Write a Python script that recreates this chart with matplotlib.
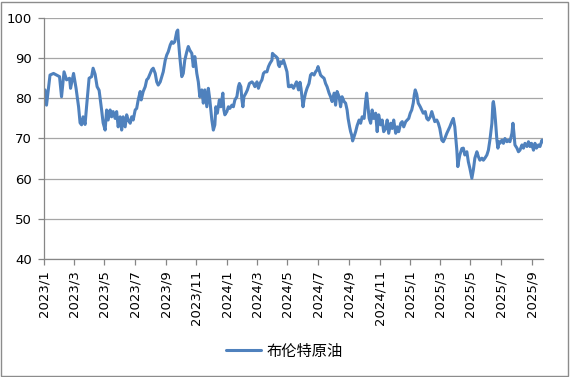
import matplotlib
matplotlib.use("Agg")
import matplotlib.pyplot as plt
from matplotlib.patches import Rectangle
import pandas as pd

series_name = "布伦特原油"

dates = [
    "2023-01-03", "2023-01-06", "2023-01-13", "2023-01-20", "2023-01-26", "2023-02-01", "2023-02-05",
    "2023-02-10", "2023-02-15", "2023-02-21", "2023-02-23", "2023-03-01", "2023-03-06", "2023-03-11",
    "2023-03-14", "2023-03-17", "2023-03-20", "2023-03-24", "2023-03-27", "2023-04-01", "2023-04-06",
    "2023-04-09", "2023-04-13", "2023-04-17", "2023-04-21", "2023-04-26", "2023-04-29", "2023-05-03",
    "2023-05-06", "2023-05-09", "2023-05-13", "2023-05-16", "2023-05-19", "2023-05-23", "2023-05-26",
    "2023-05-29", "2023-06-02", "2023-06-05", "2023-06-08", "2023-06-12", "2023-06-15", "2023-06-18",
    "2023-06-22", "2023-06-25", "2023-06-28", "2023-07-02", "2023-07-05", "2023-07-08", "2023-07-12",
    "2023-07-14", "2023-07-18", "2023-07-22", "2023-07-25", "2023-07-28", "2023-08-01", "2023-08-04",
    "2023-08-07", "2023-08-11", "2023-08-14", "2023-08-17", "2023-08-21", "2023-08-24", "2023-08-27",
    "2023-08-31", "2023-09-03", "2023-09-06", "2023-09-10", "2023-09-13", "2023-09-16", "2023-09-19",
    "2023-09-23", "2023-09-25", "2023-09-26", "2023-09-29", "2023-10-03", "2023-10-06", "2023-10-09",
    "2023-10-13", "2023-10-16", "2023-10-19", "2023-10-23", "2023-10-26", "2023-10-29", "2023-11-02",
    "2023-11-05", "2023-11-08", "2023-11-12", "2023-11-15", "2023-11-18", "2023-11-22", "2023-11-25",
    "2023-11-28", "2023-12-02", "2023-12-05", "2023-12-08", "2023-12-10", "2023-12-13", "2023-12-17",
    "2023-12-20", "2023-12-24", "2023-12-26", "2023-12-28", "2024-01-01", "2024-01-04", "2024-01-07",
    "2024-01-11", "2024-01-14", "2024-01-17", "2024-01-21", "2024-01-24", "2024-01-26", "2024-01-29",
    "2024-01-31", "2024-02-02", "2024-02-04", "2024-02-08", "2024-02-11", "2024-02-15", "2024-02-20",
    "2024-02-23", "2024-02-26", "2024-03-01", "2024-03-04", "2024-03-07", "2024-03-11", "2024-03-14",
    "2024-03-17", "2024-03-21", "2024-03-24", "2024-03-27", "2024-03-31", "2024-04-01", "2024-04-04",
    "2024-04-08", "2024-04-11", "2024-04-13", "2024-04-15", "2024-04-17", "2024-04-20", "2024-04-23",
    "2024-04-26", "2024-04-30", "2024-05-03", "2024-05-06", "2024-05-09", "2024-05-13", "2024-05-16",
    "2024-05-19", "2024-05-23", "2024-05-26", "2024-05-28", "2024-06-01", "2024-06-03", "2024-06-06",
    "2024-06-09", "2024-06-13", "2024-06-16", "2024-06-19", "2024-06-23", "2024-06-26", "2024-06-29",
    "2024-07-01", "2024-07-04", "2024-07-06", "2024-07-09", "2024-07-13", "2024-07-16", "2024-07-19",
    "2024-07-23", "2024-07-26", "2024-07-29", "2024-08-02", "2024-08-05", "2024-08-08", "2024-08-12",
    "2024-08-15", "2024-08-18", "2024-08-22", "2024-08-25", "2024-08-28", "2024-08-30", "2024-09-02",
    "2024-09-04", "2024-09-06", "2024-09-08", "2024-09-11", "2024-09-14", "2024-09-17", "2024-09-21",
    "2024-09-24", "2024-09-27", "2024-10-01", "2024-10-04", "2024-10-06", "2024-10-08", "2024-10-11",
    "2024-10-14", "2024-10-17", "2024-10-20", "2024-10-24", "2024-10-27", "2024-10-30", "2024-11-03",
    "2024-11-06", "2024-11-09", "2024-11-13", "2024-11-16", "2024-11-19", "2024-11-23", "2024-11-26",
    "2024-11-29", "2024-12-03", "2024-12-06", "2024-12-09", "2024-12-13", "2024-12-16", "2024-12-19",
    "2024-12-23", "2024-12-26", "2024-12-29", "2025-01-01", "2025-01-04", "2025-01-07", "2025-01-09",
    "2025-01-11", "2025-01-14", "2025-01-17", "2025-01-21", "2025-01-24", "2025-01-27", "2025-01-31",
    "2025-02-03", "2025-02-06", "2025-02-10", "2025-02-13", "2025-02-16", "2025-02-19", "2025-02-23",
    "2025-02-26", "2025-03-01", "2025-03-05", "2025-03-08", "2025-03-11", "2025-03-15", "2025-03-18",
    "2025-03-21", "2025-03-25", "2025-03-28", "2025-03-31", "2025-04-04", "2025-04-06", "2025-04-08",
    "2025-04-10", "2025-04-14", "2025-04-17", "2025-04-20", "2025-04-24", "2025-04-27", "2025-04-30",
    "2025-05-04", "2025-05-07", "2025-05-10", "2025-05-14", "2025-05-17", "2025-05-20", "2025-05-24",
    "2025-05-27", "2025-05-30", "2025-06-03", "2025-06-06", "2025-06-09", "2025-06-13", "2025-06-15",
    "2025-06-16", "2025-06-18", "2025-06-20", "2025-06-23", "2025-06-25", "2025-06-27", "2025-06-29",
    "2025-07-03", "2025-07-06", "2025-07-09", "2025-07-13", "2025-07-16", "2025-07-19", "2025-07-23",
    "2025-07-25", "2025-07-27", "2025-07-29", "2025-08-02", "2025-08-05", "2025-08-08", "2025-08-12",
    "2025-08-15", "2025-08-18", "2025-08-22", "2025-08-25", "2025-08-28", "2025-08-31", "2025-09-04",
    "2025-09-07", "2025-09-10", "2025-09-14", "2025-09-17", "2025-09-21", "2025-09-22",
]

brent = [
    82.1, 78.3, 85.8, 86.2, 85.8, 85.4, 80.4,
    86.6, 84.6, 85.0, 82.5, 86.2, 82.5, 77.9,
    73.9, 73.4, 75.4, 73.5, 78.0, 85.0, 85.4,
    87.5, 86.0, 82.9, 82.0, 77.1, 73.9, 72.1,
    77.1, 74.6, 77.1, 75.4, 76.7, 75.0, 76.7,
    72.9, 75.4, 72.1, 75.4, 72.9, 75.9, 74.6,
    73.8, 75.4, 74.6, 77.1, 77.5, 79.6, 81.7,
    79.6, 81.7, 82.9, 84.6, 85.0, 86.2, 87.1,
    87.5, 86.2, 84.1, 83.3, 84.1, 85.4, 86.6,
    89.5, 90.8, 91.6, 93.3, 94.1, 93.7, 94.1,
    96.6, 97.0, 94.9, 90.4, 85.4, 86.2, 89.5,
    91.6, 92.9, 92.0, 91.2, 87.9, 90.4, 86.2,
    84.1, 80.4, 82.1, 78.8, 82.1, 77.9, 82.5,
    79.6, 74.6, 72.1, 73.4, 77.9, 76.3, 79.6,
    77.9, 81.3, 77.1, 75.9, 76.7, 77.9, 77.5,
    78.3, 77.9, 79.6, 80.4, 82.9, 83.7, 82.9,
    79.6, 77.9, 80.4, 81.3, 82.1, 83.7, 84.1,
    83.7, 82.9, 84.1, 82.5, 83.7, 84.6, 86.2,
    86.6, 86.6, 87.9, 88.7, 89.5, 91.2, 90.8,
    90.4, 90.0, 88.3, 87.9, 89.1, 88.7, 89.5,
    88.3, 86.6, 82.9, 82.9, 83.3, 82.5, 83.3,
    84.1, 82.1, 84.0, 82.5, 77.9, 79.6, 81.3,
    82.5, 83.7, 85.8, 86.2, 85.8, 86.6, 87.1,
    87.9, 86.6, 85.8, 85.4, 85.0, 83.7, 82.9,
    81.3, 80.4, 79.2, 81.3, 78.3, 81.7, 80.4,
    77.9, 80.4, 79.2, 78.8, 77.1, 75.0, 72.9,
    71.7, 70.9, 69.4, 70.5, 71.7, 73.2, 74.6,
    73.8, 75.4, 75.0, 79.2, 81.3, 78.8, 75.0,
    73.8, 77.1, 75.0, 76.3, 71.7, 75.9, 73.4,
    74.6, 71.7, 72.5, 74.6, 71.3, 73.8, 72.5,
    74.6, 71.3, 72.9, 71.7, 73.8, 74.2, 72.9,
    74.2, 74.6, 75.0, 76.3, 77.1, 78.8, 80.8,
    82.1, 81.0, 78.8, 77.9, 77.1, 76.3, 76.7,
    75.0, 74.6, 75.4, 76.7, 75.4, 74.2, 74.6,
    73.8, 72.5, 69.6, 69.2, 70.0, 71.3, 72.1,
    72.9, 74.2, 75.0, 72.9, 67.1, 63.0, 64.6,
    65.9, 67.5, 67.6, 65.9, 66.7, 64.2, 62.6,
    60.1, 62.2, 65.1, 66.7, 65.5, 64.6, 65.1,
    64.6, 65.1, 65.9, 67.1, 69.6, 73.8, 78.8,
    79.2, 77.5, 74.6, 69.6, 67.6, 69.2, 68.8,
    69.6, 68.8, 70.0, 69.2, 69.6, 69.2, 71.3,
    73.8, 71.3, 68.4, 67.6, 66.7, 67.1, 68.4,
    67.6, 68.8, 68.0, 69.2, 68.0, 68.8, 67.1,
    68.8, 67.6, 68.4, 68.0, 69.6, 69.2,
]

tick_dates = pd.date_range("2023-01-01", "2025-09-01", freq="2MS")
tick_labels = [f"{d.year}/{d.month}" for d in tick_dates]
y_ticks = [40, 50, 60, 70, 80, 90, 100]

plt.rcParams["font.family"] = ["DejaVu Sans", "Noto Sans CJK SC"]

W, H = 570, 377
fig = plt.figure(figsize=(W / 100, H / 100), dpi=100)
ax = fig.add_axes([44 / W, 1 - 259 / H, (543 - 44) / W, (259 - 18) / H])

ax.plot(pd.to_datetime(dates), brent, color="#4F81BD", lw=2.2,
        solid_joinstyle="round", solid_capstyle="round", label=series_name)

ax.set_ylim(40, 100)
ax.set_yticks(y_ticks)
ax.set_xlim(pd.Timestamp("2023-01-01"), pd.Timestamp("2025-09-23"))
ax.set_xticks(tick_dates)
ax.set_xticklabels(tick_labels, rotation=90)

ax.grid(axis="y", color="#A6A6A6", lw=0.9)
ax.grid(axis="x", visible=False)
ax.set_axisbelow(True)
for s in ["top", "right"]:
    ax.spines[s].set_visible(False)
for s in ["left", "bottom"]:
    ax.spines[s].set_color("#868686")
    ax.spines[s].set_linewidth(0.9)

ax.tick_params(axis="both", direction="out", length=4, width=0.9,
               color="#868686", labelsize=9.5, labelcolor="#000000")
ax.tick_params(axis="y", pad=4.5)
ax.tick_params(axis="x", pad=4.0)

fig.legend(loc="center", bbox_to_anchor=(284 / W, 1 - 351 / H), frameon=False,
           handlelength=2.3, handletextpad=0.35,
           prop={"family": ["Noto Sans CJK SC", "DejaVu Sans"], "size": 11})

fig.patches.append(Rectangle((1 / W, 1 / H), (568 - 1) / W, (376 - 2) / H,
                             transform=fig.transFigure, fill=False,
                             edgecolor="#8C8C8C", lw=1.0))

fig.savefig("out.png", dpi=100)
